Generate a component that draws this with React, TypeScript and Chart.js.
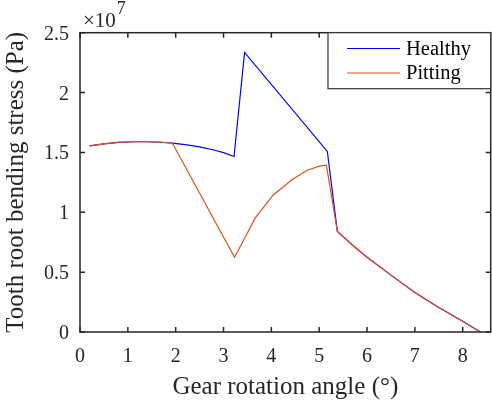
import React, { useEffect, useRef } from "react";
import { Chart, registerables } from "chart.js";

Chart.register(...registerables);

// ---- Data (stress in Pa) ----
const healthyX = [0.2, 0.5, 0.8, 1.1, 1.4, 1.7, 1.93, 2.2, 2.5, 2.8, 3.0, 3.22, 3.44, 5.17, 5.38, 5.7, 6.0, 6.5, 7.0, 7.5, 8.0, 8.37];
const healthyY = [1.555e7, 1.572e7, 1.584e7, 1.589e7, 1.589e7, 1.585e7, 1.578e7, 1.565e7, 1.546e7, 1.52e7, 1.498e7, 1.466e7, 2.335e7, 1.508e7, 0.839e7, 0.725e7, 0.625e7, 0.475e7, 0.33e7, 0.205e7, 0.09e7, 0.0];

const pittingX = [0.2, 0.5, 0.8, 1.1, 1.4, 1.7, 1.93, 3.23, 3.45, 3.66, 4.04, 4.43, 4.74, 5.0, 5.15, 5.38, 5.7, 6.0, 6.5, 7.0, 7.5, 8.0, 8.37];
const pittingY = [1.555e7, 1.572e7, 1.584e7, 1.589e7, 1.589e7, 1.585e7, 1.578e7, 0.625e7, 0.79e7, 0.951e7, 1.145e7, 1.271e7, 1.349e7, 1.385e7, 1.394e7, 0.839e7, 0.725e7, 0.625e7, 0.475e7, 0.33e7, 0.205e7, 0.09e7, 0.0];

const xTicks = [0, 1, 2, 3, 4, 5, 6, 7, 8];
const xTickLabels = ["0", "1", "2", "3", "4", "5", "6", "7", "8"];
const yTicks = [0, 0.5e7, 1e7, 1.5e7, 2e7, 2.5e7];
const yTickLabels = ["0", "0.5", "1", "1.5", "2", "2.5"];

const seriesLabels = ["Healthy", "Pitting"];
const seriesColors = ["#0000FF", "#D95319"];

const X_MIN = 0;
const X_MAX = 8.585;
const Y_MIN = 0;
const Y_MAX = 2.5e7;

const FONT = '"Liberation Serif", "Times New Roman", serif';
const AX = "#262626";

const decorPlugin = {
  id: "matlabDecor",
  afterDraw(chart: any) {
    const { ctx, chartArea: a, scales } = chart;
    const x = scales.x;
    const y = scales.y;
    ctx.save();
    // box
    ctx.strokeStyle = AX;
    ctx.lineWidth = 1.5;
    ctx.strokeRect(a.left, a.top, a.right - a.left, a.bottom - a.top);
    // inward ticks
    const tl = 5;
    ctx.beginPath();
    xTicks.forEach((v) => {
      const px = x.getPixelForValue(v);
      ctx.moveTo(px, a.bottom);
      ctx.lineTo(px, a.bottom - tl);
      ctx.moveTo(px, a.top);
      ctx.lineTo(px, a.top + tl);
    });
    yTicks.forEach((v) => {
      const py = y.getPixelForValue(v);
      ctx.moveTo(a.left, py);
      ctx.lineTo(a.left + tl, py);
      ctx.moveTo(a.right, py);
      ctx.lineTo(a.right - tl, py);
    });
    ctx.stroke();

    // tick labels
    ctx.fillStyle = AX;
    ctx.font = `20px ${FONT}`;
    ctx.textBaseline = "alphabetic";
    ctx.textAlign = "center";
    xTicks.forEach((v, i) => {
      ctx.fillText(xTickLabels[i], x.getPixelForValue(v), a.bottom + 30);
    });
    ctx.textAlign = "right";
    yTicks.forEach((v, i) => {
      ctx.fillText(yTickLabels[i], a.left - 11, y.getPixelForValue(v) + 7);
    });

    // exponent
    ctx.textAlign = "left";
    ctx.font = `21px ${FONT}`;
    const base = "\u00d710";
    ctx.fillText(base, a.left + 3, 26.5);
    const w = ctx.measureText(base).width;
    ctx.font = `18px ${FONT}`;
    ctx.fillText("7", a.left + 3 + w + 1, 13.5);

    // axis titles
    ctx.font = `25px ${FONT}`;
    ctx.textAlign = "center";
    ctx.fillText("Gear rotation angle (\u00b0)", (a.left + a.right) / 2, 394);
    ctx.save();
    ctx.translate(23, (a.top + a.bottom) / 2);
    ctx.rotate(-Math.PI / 2);
    ctx.fillText("Tooth root bending stress (Pa)", 0, 0);
    ctx.restore();

    // legend
    const lx = 328, ly = a.top, lw = a.right - 328, lh = 56;
    ctx.fillStyle = "#ffffff";
    ctx.fillRect(lx, ly, lw, lh);
    ctx.strokeStyle = "#333333";
    ctx.lineWidth = 1.2;
    ctx.strokeRect(lx, ly, lw, lh);
    ctx.font = `20.5px ${FONT}`;
    ctx.textAlign = "left";
    ctx.textBaseline = "middle";
    seriesLabels.forEach((lab, i) => {
      const cy = 48.5 + i * 24.5;
      ctx.strokeStyle = seriesColors[i];
      ctx.lineWidth = 1.2;
      ctx.beginPath();
      ctx.moveTo(347, cy);
      ctx.lineTo(400, cy);
      ctx.stroke();
      ctx.fillStyle = "#000000";
      ctx.fillText(lab, 406, cy + 1);
    });
    ctx.restore();
  },
};

export default function App() {
  const ref = useRef<HTMLCanvasElement | null>(null);
  useEffect(() => {
    if (!ref.current) return;
    const healthy = healthyX.map((v, i) => ({ x: v, y: healthyY[i] }));
    const pitting = pittingX.map((v, i) => ({ x: v, y: pittingY[i] }));
    const chart = new Chart(ref.current, {
      type: "line",
      data: {
        datasets: [
          {
            label: seriesLabels[0],
            data: healthy,
            borderColor: seriesColors[0],
            borderWidth: 1.2,
            pointRadius: 0,
            tension: 0,
            fill: false,
            order: 1,
          },
          {
            label: seriesLabels[1],
            data: pitting,
            borderColor: seriesColors[1],
            borderWidth: 1.2,
            pointRadius: 0,
            tension: 0,
            fill: false,
            order: 0,
          },
        ],
      },
      options: {
        animation: false,
        responsive: false,
        events: [],
        layout: { padding: { left: 80, right: 1.3, top: 32.7, bottom: 72 } },
        plugins: { legend: { display: false }, tooltip: { enabled: false } },
        scales: {
          x: { type: "linear", min: X_MIN, max: X_MAX, display: false },
          y: { type: "linear", min: Y_MIN, max: Y_MAX, display: false },
        },
      },
      plugins: [decorPlugin],
    });
    return () => chart.destroy();
  }, []);
  return (
    <div style={{ position: "fixed", left: 0, top: 0, width: 492, height: 404, background: "#fff" }}>
      <canvas ref={ref} width={492} height={404} style={{ width: 492, height: 404 }} />
    </div>
  );
}
